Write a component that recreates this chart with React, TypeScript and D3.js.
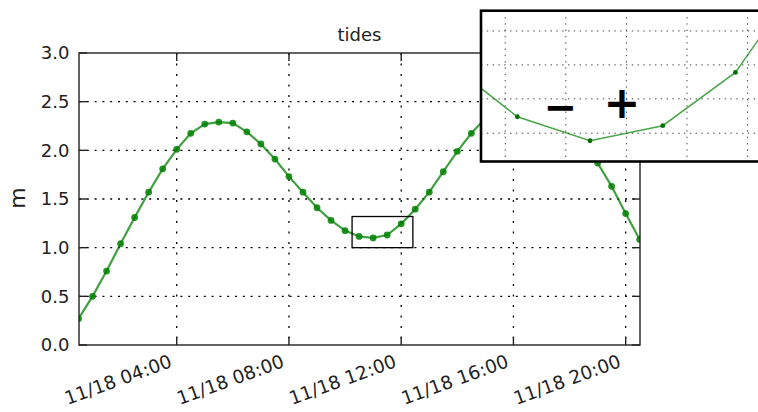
import React from "react";
import * as d3 from "d3";

const DAY = "2014-11-18";
const times = [
  "00:30","01:00","01:30","02:00","02:30","03:00","03:30","04:00","04:30","05:00",
  "05:30","06:00","06:30","07:00","07:30","08:00","08:30","09:00","09:30","10:00",
  "10:30","11:00","11:30","12:00","12:30","13:00","13:30","14:00","14:30","15:00",
  "15:30","16:00","16:30","17:00","17:30","18:00","18:30","19:00","19:30","20:00",
  "20:30",
];
const heights = [
  0.27, 0.5, 0.76, 1.04, 1.31, 1.57, 1.81, 2.01, 2.175, 2.27,
  2.29, 2.28, 2.19, 2.065, 1.91, 1.73, 1.57, 1.41, 1.28, 1.175,
  1.115, 1.1, 1.13, 1.245, 1.395, 1.57, 1.78, 1.99, 2.175, 2.33,
  2.44, 2.5, 2.52, 2.5, 2.44, 2.33, 2.12, 1.87, 1.63, 1.35,
  1.085,
];
const xTickTimes = ["04:00", "08:00", "12:00", "16:00", "20:00"];
const yTicks = [0, 0.5, 1.0, 1.5, 2.0, 2.5, 3.0];

// zoom window (rectangle on main chart, domain of inset)
const zoomTimes = ["10:15", "12:25"];
const zoomHeights = [1.0, 1.32];
// inset series (as shown in the inset)
const insetTimes = ["10:00", "10:30", "11:00", "11:30", "12:00", "12:30"];
const insetHeights = [1.216, 1.095, 1.044, 1.076, 1.189, 1.409];
const insetXGrid = ["10:25", "10:50", "11:15", "11:40", "12:05"];
const insetYGrid = [1.06, 1.133, 1.205, 1.277];

const T = (s: string) => {
  const [h, m] = s.split(":").map(Number);
  const [Y, M, D] = DAY.split("-").map(Number);
  return new Date(Y, M - 1, D, h, m);
};

const FONT = "DejaVu Sans";

export default function App() {
  const W = 758, H = 412;
  const L = 78.5, R = 639.7, TOP = 53, B = 345;
  const x = d3.scaleTime().domain([T(times[0]), T(times[times.length - 1])]).range([L, R]);
  const y = d3.scaleLinear().domain([0, 3]).range([B, TOP]);
  const fmt = d3.timeFormat("%m/%d %H:%M");
  const data = times.map((t, i) => ({ t: T(t), v: heights[i] }));
  const line = d3.line<{ t: Date; v: number }>().x((d) => x(d.t)).y((d) => y(d.v));

  // inset
  const IL = 481, IT = 10.7, IB = 161.5;
  const IR = IL + (130 / 60) * 145.4;
  const ix = d3.scaleTime().domain(zoomTimes.map(T)).range([IL, IR]);
  const iy = d3.scaleLinear().domain(zoomHeights).range([IB, IT]);
  const idata = insetTimes.map((t, i) => ({ t: T(t), v: insetHeights[i] }));
  const iline = d3.line<{ t: Date; v: number }>().x((d) => ix(d.t)).y((d) => iy(d.v));

  const xl = 79, xr = 640;
  const tickLen = 8;

  return (
    <svg width={W} height={H} style={{ position: "absolute", left: 0, top: 0, background: "#fff" }} fontFamily={FONT}>
      <defs>
        <clipPath id="mainClip">
          <rect x={xl} y={TOP} width={xr - xl} height={B - TOP} />
        </clipPath>
        <clipPath id="insetClip">
          <rect x={IL} y={IT} width={IR - IL} height={IB - IT} />
        </clipPath>
      </defs>
      <rect x={0} y={0} width={W} height={H} fill="#fff" />
      {/* grid */}
      <g stroke="#000" strokeWidth={1.3}>
        {yTicks.slice(1, -1).map((v) => (
          <line key={"gy" + v} x1={xl} x2={xr} y1={y(v)} y2={y(v)} strokeDasharray="2,5.8" />
        ))}
        {xTickTimes.map((t) => (
          <line key={"gx" + t} x1={x(T(t))} x2={x(T(t))} y1={TOP} y2={B} strokeDasharray="2,8.5" />
        ))}
      </g>
      {/* series */}
      <g clipPath="url(#mainClip)">
        <path d={line(data) || ""} fill="none" stroke="#008000" strokeWidth={2.2} opacity={0.75} />
        {data.map((d, i) => (
          <circle key={i} cx={x(d.t)} cy={y(d.v)} r={3.4} fill="#008000" opacity={0.85} />
        ))}
      </g>
      {/* zoom rectangle */}
      <rect
        x={x(T(zoomTimes[0]))}
        y={y(zoomHeights[1])}
        width={x(T(zoomTimes[1])) - x(T(zoomTimes[0]))}
        height={y(zoomHeights[0]) - y(zoomHeights[1])}
        fill="none"
        stroke="#000"
        strokeWidth={1.3}
      />
      {/* spines */}
      <rect x={xl} y={TOP} width={xr - xl} height={B - TOP} fill="none" stroke="#222" strokeWidth={1.4} />
      {/* ticks */}
      <g stroke="#222" strokeWidth={1.4}>
        {yTicks.map((v) => (
          <g key={"ty" + v}>
            <line x1={xl} x2={xl + tickLen} y1={y(v)} y2={y(v)} />
            <line x1={xr - tickLen} x2={xr} y1={y(v)} y2={y(v)} />
          </g>
        ))}
        {xTickTimes.map((t) => (
          <g key={"tx" + t}>
            <line x1={x(T(t))} x2={x(T(t))} y1={B} y2={B - tickLen} />
            <line x1={x(T(t))} x2={x(T(t))} y1={TOP} y2={TOP + tickLen} />
          </g>
        ))}
      </g>
      {/* y labels */}
      <g fontSize={18} fill="#222" textAnchor="end">
        {yTicks.map((v) => (
          <text key={"ly" + v} x={69.5} y={y(v)} dy="0.36em">
            {v.toFixed(1)}
          </text>
        ))}
      </g>
      {/* x labels */}
      <g fontSize={18.5} fill="#222" textAnchor="end">
        {xTickTimes.map((t) => (
          <text key={"lx" + t} transform={`translate(${x(T(t)) - 8.5},353) rotate(-20)`} dy="0.78em">
            {fmt(T(t))}
          </text>
        ))}
      </g>
      <text x={(xl + xr) / 2} y={40.5} fontSize={18} textAnchor="middle" fill="#222">
        tides
      </text>
      <text transform="translate(25,198) rotate(-90)" fontSize={22} textAnchor="middle" fill="#222">
        m
      </text>

      {/* inset */}
      <rect x={IL} y={IT} width={IR - IL} height={IB - IT} fill="#fff" />
      <g stroke="#444" strokeWidth={1} clipPath="url(#insetClip)">
        {insetYGrid.map((v) => (
          <line key={"igy" + v} x1={IL} x2={IR} y1={iy(v)} y2={iy(v)} strokeDasharray="1.4,4.4" />
        ))}
        {insetXGrid.map((t) => (
          <line key={"igx" + t} x1={ix(T(t))} x2={ix(T(t))} y1={IT} y2={IB} strokeDasharray="1.4,4.9" />
        ))}
      </g>
      <g clipPath="url(#insetClip)">
        <path d={iline(idata) || ""} fill="none" stroke="#008000" strokeWidth={1.5} opacity={0.7} />
        {idata.map((d, i) => (
          <circle key={i} cx={ix(d.t)} cy={iy(d.v)} r={2.4} fill="#007000" />
        ))}
      </g>
      <text x={560.5} y={106.7} fontSize={40} fontWeight="bold" textAnchor="middle" dominantBaseline="central" fill="#000">
        −
      </text>
      <text x={622} y={102.5} fontSize={44} fontWeight="bold" textAnchor="middle" dominantBaseline="central" fill="#000">
        +
      </text>
      <rect x={IL} y={IT} width={IR - IL} height={IB - IT} fill="none" stroke="#000" strokeWidth={2.6} />
    </svg>
  );
}
